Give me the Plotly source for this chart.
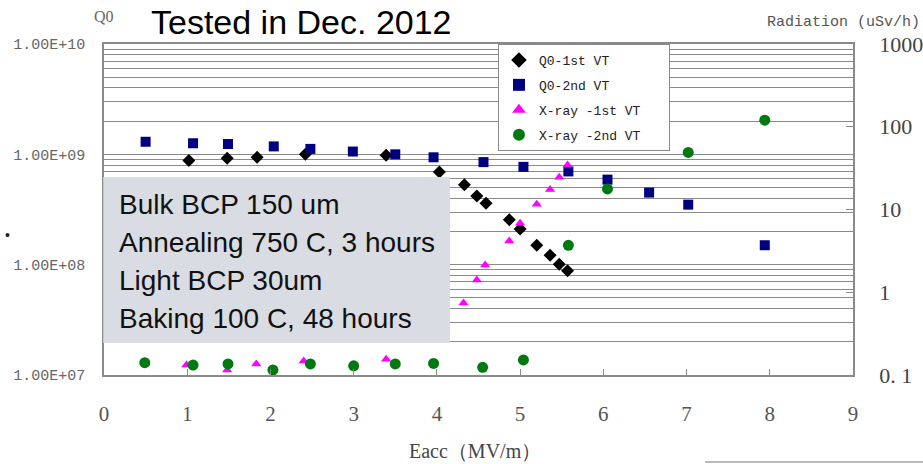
import plotly.graph_objects as go

# ---------------- data ----------------
q1_x = [1.02, 1.48, 1.84, 2.42, 3.39, 4.03, 4.33, 4.48, 4.59, 4.87, 5.00, 5.20, 5.36, 5.47, 5.57]
q1_y = [8.8e8, 9.2e8, 9.4e8, 1.0e9, 9.8e8, 6.9e8, 5.3e8, 4.2e8, 3.6e8, 2.55e8, 2.1e8, 1.5e8, 1.22e8, 1.01e8, 8.8e7]

q2_x = [0.50, 1.07, 1.49, 2.04, 2.48, 2.99, 3.50, 3.96, 4.56, 5.04, 5.58, 6.05, 6.55, 7.02, 7.94]
q2_y = [1.30e9, 1.26e9, 1.24e9, 1.18e9, 1.12e9, 1.06e9, 1.0e9, 9.4e8, 8.5e8, 7.7e8, 7.0e8, 5.9e8, 4.5e8, 3.5e8, 1.5e8]

x1_x = [0.99, 1.48, 1.83, 2.40, 3.39, 4.32, 4.48, 4.58, 4.87, 5.00, 5.20, 5.36, 5.47, 5.57]
x1_y = [0.132, 0.115, 0.136, 0.148, 0.155, 0.74, 1.41, 2.13, 4.16, 6.8, 11.6, 17.5, 24.5, 34.5]

x2_x = [0.49, 1.07, 1.49, 2.03, 2.48, 3.00, 3.50, 3.96, 4.55, 5.04, 5.58, 6.05, 7.02, 7.94]
x2_y = [0.141, 0.132, 0.136, 0.115, 0.136, 0.129, 0.136, 0.138, 0.124, 0.152, 3.69, 17.7, 49, 120]

series_names = ["Q0-1st VT", "Q0-2nd VT", "X-ray -1st VT", "X-ray -2nd VT"]

x_ticks = [0, 1, 2, 3, 4, 5, 6, 7, 8, 9]
left_decades = [1e7, 1e8, 1e9, 1e10]
left_labels = ["1.00E+07", "1.00E+08", "1.00E+09", "1.00E+10"]
right_ticks = [0.1, 1, 10, 100, 1000]
right_labels = ["0. 1", "1", "10", "100", "1000"]

box_lines = ["Bulk BCP 150 um", "Annealing 750 C, 3 hours", "Light BCP 30um", "Baking 100 C, 48 hours"]

# ---------------- build ----------------
left_vals, left_text = [], []
for d, lab in zip(left_decades, left_labels):
    left_vals.append(d)
    left_text.append(lab)
    if d < 1e10:
        for k in range(2, 10):
            left_vals.append(k * d)
            left_text.append("")

pad = "\u00a0\u00a0\u00a0"
fig = go.Figure()
fig.add_trace(go.Scatter(x=q1_x, y=q1_y, mode="markers", name=series_names[0] + pad,
                         legendgroup="a",
                         marker=dict(symbol="diamond", size=10, color="black")))
fig.add_trace(go.Scatter(x=q2_x, y=q2_y, mode="markers", name=series_names[1] + pad,
                         legendgroup="b",
                         marker=dict(symbol="square", size=10, color="#000080")))
fig.add_trace(go.Scatter(x=x1_x, y=x1_y, mode="markers", name=series_names[2] + pad,
                         legendgroup="c", yaxis="y2",
                         marker=dict(symbol="triangle-up", size=9, color="#ff00ff")))
fig.add_trace(go.Scatter(x=x2_x, y=x2_y, mode="markers", name=series_names[3] + pad,
                         legendgroup="d", yaxis="y2",
                         marker=dict(symbol="circle", size=11, color="#007a10")))

axis_gray = "#8a8a8a"
serif = "Liberation Serif"
mono = "Liberation Mono"

fig.update_layout(
    width=923, height=464,
    margin=dict(l=104, r=70, t=44, b=89, autoexpand=False),
    paper_bgcolor="white", plot_bgcolor="white",
    showlegend=True,
    legend=dict(x=0.526, y=1.0, xanchor="left", yanchor="top",
                bgcolor="white", bordercolor="#8a8a8a", borderwidth=1,
                font=dict(family=mono, size=13, color="#222"),
                traceorder="grouped", tracegroupgap=5, itemsizing="constant"),
    xaxis=dict(range=[0, 9], tickvals=x_ticks, ticktext=[str(v) for v in x_ticks],
               showgrid=False, zeroline=False, showline=True, linecolor=axis_gray,
               linewidth=1.5, mirror=True, ticks="inside", ticklen=6, tickcolor=axis_gray,
               tickfont=dict(family=serif, size=21, color="#555"), ticklabelstandoff=19,
               automargin=False),
    yaxis=dict(type="log", range=[7, 10], tickvals=left_vals, ticktext=left_text,
               showgrid=True, gridcolor="#8a8a8a", gridwidth=1.2, zeroline=False,
               showline=True, linecolor=axis_gray, linewidth=1.5, ticks="",
               tickfont=dict(family=mono, size=15, color="#666"), ticklabelstandoff=14,
               automargin=False),
    yaxis2=dict(type="log", range=[-1, 3], overlaying="y", side="right",
                tickvals=right_ticks, ticktext=right_labels, showgrid=False, zeroline=False,
                showline=True, linecolor=axis_gray, linewidth=1.5,
                ticks="inside", ticklen=7, tickcolor=axis_gray,
                tickfont=dict(family=serif, size=22, color="#444"), ticklabelstandoff=20,
                automargin=False),
)

fig.add_shape(type="rect", xref="paper", yref="paper",
              x0=-0.001, x1=0.462, y0=0.0967, y1=0.598,
              fillcolor="#d9dde3", line=dict(width=0), layer="above")

ann = []
line_y_px = [205, 242, 280, 318]
for txt, py in zip(box_lines, line_y_px):
    ann.append(dict(text=txt, xref="paper", yref="paper", x=(117 - 104) / 749,
                    y=(375 - py) / 331, xanchor="left", yanchor="middle", showarrow=False,
                    font=dict(family="Liberation Sans", size=28, color="#111")))

ann.append(dict(text="Tested in Dec. 2012", xref="paper", yref="paper",
                x=(149 - 104) / 749, y=(375 - 22) / 331, xanchor="left", yanchor="middle",
                showarrow=False, font=dict(family="Liberation Sans", size=34, color="black")))
ann.append(dict(text="Q0", xref="paper", yref="paper", x=(92 - 104) / 749,
                y=(375 - 17) / 331, xanchor="left", yanchor="middle", showarrow=False,
                font=dict(family=serif, size=16, color="#666")))
ann.append(dict(text="Radiation (uSv/h)", xref="paper", yref="paper", x=(765 - 104) / 749,
                y=(375 - 23) / 331, xanchor="left", yanchor="middle", showarrow=False,
                font=dict(family=mono, size=15, color="#555")))
ann.append(dict(text="Eacc（MV/m）", xref="paper", yref="paper", x=(475 - 104) / 749,
                y=(375 - 451) / 331, xanchor="center", yanchor="middle", showarrow=False,
                font=dict(family=serif, size=20, color="#444")))
ann.append(dict(text="•", xref="paper", yref="paper", x=(8 - 104) / 749,
                y=(375 - 235) / 331, xanchor="center", yanchor="middle", showarrow=False,
                font=dict(family="Liberation Sans", size=14, color="#222")))
fig.update_layout(annotations=ann)

fig.add_shape(type="line", xref="paper", yref="paper",
              x0=(705 - 104) / 749, x1=(923 - 104) / 749,
              y0=(375 - 462) / 331, y1=(375 - 462) / 331,
              line=dict(color="#bbbbbb", width=2))

fig.write_html("out.html",
               config={"displayModeBar": False},
               post_script="document.body.style.margin='0';document.body.style.overflow='hidden';")
